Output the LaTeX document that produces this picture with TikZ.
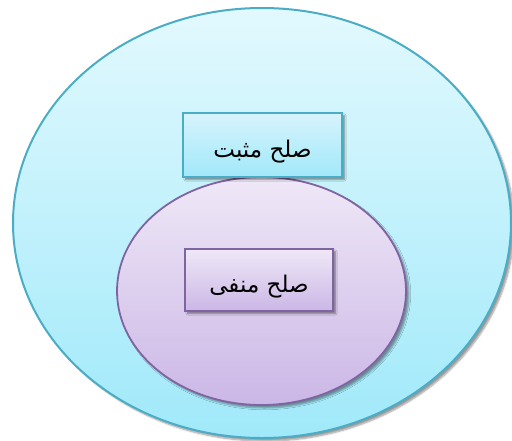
\documentclass[tikz,border=0pt]{standalone}
\usepackage{fontspec}
\usetikzlibrary{shapes.geometric,shadows.blur}
\TeXXeTstate=1
\newfontfamily\arabicfont[Script=Arabic]{DejaVu Sans}
\definecolor{aquaLine}{HTML}{4BACC6}
\definecolor{aquaTop}{HTML}{E2F9FE}
\definecolor{aquaBot}{HTML}{A0E9FA}
\definecolor{boxTop}{HTML}{D6F4FC}
\definecolor{boxBot}{HTML}{A2E8FA}
\definecolor{violetLine}{HTML}{8064A2}
\definecolor{violetTop}{HTML}{EFE8F7}
\definecolor{violetBot}{HTML}{CBB7E6}
% right-to-left label, set a little below the box centre
\newcommand{\rtltext}[1]{\raisebox{-7pt}[\height][\depth]{\beginR #1\endR}}
\tikzset{
  outerset/.style={ellipse, draw=aquaLine, line width=2pt, top color=aquaTop, bottom color=aquaBot,
    minimum width=498pt, minimum height=430pt, inner sep=0pt,
    blur shadow={shadow xshift=3pt, shadow yshift=-3pt, shadow blur steps=6, shadow opacity=40}},
  innerset/.style={ellipse, draw=violetLine, line width=1.8pt, top color=violetTop, bottom color=violetBot,
    minimum width=289pt, minimum height=228pt, inner sep=0pt,
    blur shadow={shadow xshift=3pt, shadow yshift=-3pt, shadow blur steps=6, shadow opacity=40}},
  labelbox/.style={rectangle, line width=1.8pt, inner sep=0pt,
    font=\arabicfont\fontsize{23}{26}\selectfont,
    blur shadow={shadow xshift=2.5pt, shadow yshift=-2.5pt, shadow blur steps=5, shadow opacity=45}},
  aquabox/.style={labelbox, draw=aquaLine, top color=boxTop, bottom color=boxBot,
    minimum width=159pt, minimum height=64pt},
  violetbox/.style={labelbox, draw=violetLine, top color=violetTop, bottom color=violetBot,
    minimum width=148pt, minimum height=62pt},
}
\begin{document}
\begin{tikzpicture}[x=1pt,y=-1pt]
  \useasboundingbox (0,0) rectangle (512,440);
  % the two nested sets
  \node[outerset] (whole) at (262,223) {};
  \node[innerset] (part) at (261.5,291) {};
  % their labels
  \node[aquabox] (positive) at (262.5,145) {\rtltext{صلح مثبت}};
  \node[violetbox] (negative) at (259,280) {\rtltext{صلح منفی}};
\end{tikzpicture}
\end{document}
